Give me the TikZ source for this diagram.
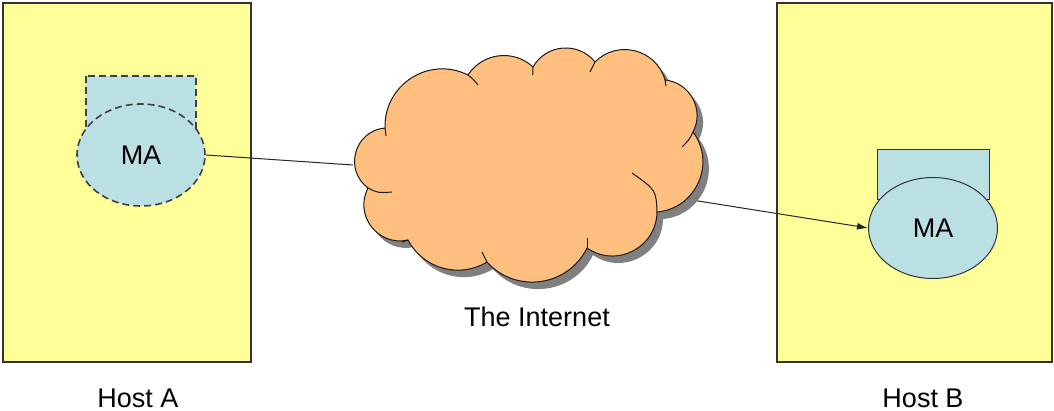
\documentclass[tikz,border=0pt]{standalone}
\usepackage{fontspec}
\setmainfont{Liberation Sans}
\usetikzlibrary{shapes.geometric,arrows.meta}
\definecolor{hostyellow}{HTML}{FFFF99}
\definecolor{mablue}{HTML}{BBE0E3}
\definecolor{cloudorange}{HTML}{FFBF7F}
\definecolor{shadowgray}{HTML}{808080}
\newcommand{\mycloudoutline}{(368,188)
  to[bend left=69, looseness=1.26] (385,128)
  to[bend left=59, looseness=1.13] (468,75)
  to[bend left=50, looseness=1.04] (533,67)
  to[bend left=56, looseness=1.09] (595,62)
  to[bend left=60, looseness=1.13] (665,80)
  to[bend left=56, looseness=1.09] (693,132)
  to[bend left=61, looseness=1.14] (657,212)
  to[bend left=62, looseness=1.16] (587,248)
  to[bend left=56, looseness=1.09] (487,262)
  to[bend left=47, looseness=1.01] (408,240)
  to[bend left=65, looseness=1.20] (368,188) -- cycle}
\tikzset{
  hostbox/.style={draw=black!80, line width=1.1pt, fill=hostyellow},
  marect/.style={draw=black!80, line width=1pt, fill=mablue},
  maell/.style={ellipse, draw=black!80, line width=1pt, fill=mablue, inner sep=0pt, font=\fontsize{27}{30}\selectfont},
  lbl/.style={font=\fontsize{27}{30}\selectfont, inner sep=0pt},
  cloudline/.style={draw=black!90, line width=1pt, line join=round},
  dashedline/.style={dash pattern=on 7pt off 4pt, line width=1.6pt, draw=black!75},
  conn/.style={line width=1pt, black!85}
}
\begin{document}
\begin{tikzpicture}[x=1pt,y=-1pt]
\useasboundingbox (0,0) rectangle (1054,411);
% hosts
\draw[hostbox] (3,3) rectangle (251,362);
\draw[hostbox] (777,3) rectangle (1052,362);
\node[lbl] (hostA) at (138,398) {Host A};
\node[lbl] (hostB) at (923,398) {Host B};
% MA on Host A (dashed)
\draw[marect, dashedline] (86,76) rectangle (196,130);
\node[maell, dashedline, minimum width=128pt, minimum height=102pt] (ma1) at (141,155) {MA};
% MA on Host B
\draw[marect] (877,150) rectangle (989,200);
\node[maell, minimum width=129pt, minimum height=101pt] (ma2) at (933,228) {MA};
% invisible anchor node for the Internet cloud
\node[ellipse, minimum width=350pt, minimum height=235pt, inner sep=0pt] (net) at (528,165) {};
% connectors (drawn under the cloud)
\draw[conn] (ma1.east) -- (net.west);
\draw[conn, -{Latex[length=11pt,width=7pt]}] (net.-12.6) -- (ma2.west);
% cloud shadow, body and puff tails
\fill[shadowgray, shift={(6,7)}] \mycloudoutline;
\filldraw[fill=cloudorange, cloudline] \mycloudoutline;
\draw[cloudline] (368,188) .. controls (378,193) .. (392,192);
\draw[cloudline] (385,128) -- (386,136);
\draw[cloudline] (468,75) .. controls (473,79) .. (478,85);
\draw[cloudline] (533,67) -- (532.7,75);
\draw[cloudline] (595,62) -- (590,72);
\draw[cloudline] (665,80) -- (666,86);
\draw[cloudline] (693,132) .. controls (689,140) .. (682,147);
\draw[cloudline] (657,212) .. controls (656,190) .. (632,173);
\draw[cloudline] (587,248) -- (587,238);
\draw[cloudline] (487,262) -- (482,252);
\draw[cloudline] (408,240) -- (402,242);
\node[lbl] (netlbl) at (537,317) {The Internet};
\end{tikzpicture}
\end{document}
